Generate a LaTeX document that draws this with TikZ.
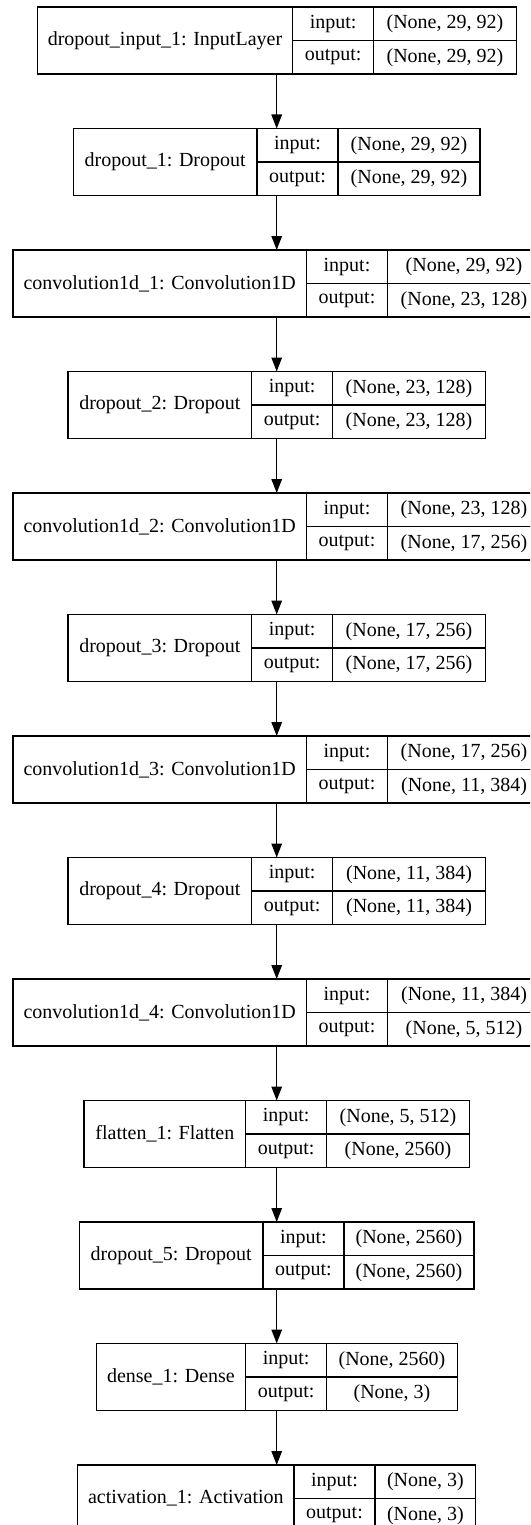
\documentclass[tikz,border=0pt]{standalone}
\usepackage{fontspec}
\setmainfont{Liberation Serif}
\usetikzlibrary{arrows.meta}
\tikzset{
  frame/.style={inner sep=0pt, outer sep=0pt},
  cell/.style={draw, line width=1.4pt, inner sep=0pt, outer sep=0pt, font=\fontsize{20pt}{24pt}\selectfont},
  arr/.style={line width=1.4pt, -{Triangle[length=14pt,width=10.5pt]}}
}
\newcommand\lyr[7]{%
  \pgfmathsetmacro\Lt{7+121.5*(#2-1)}%
  \pgfmathsetmacro\Ll{276.7-#3/2}%
  \pgfmathsetmacro\La{\Ll+#4}%
  \pgfmathsetmacro\Lb{\La+81}%
  \pgfmathsetmacro\Lr{276.7+#3/2}%
  \pgfmathsetmacro\Lv{\Lr-\Lb}%
  \node[frame, minimum width=#3pt, minimum height=67pt] (#1) at ({276.7},{\Lt+33.5}) {};
  \node[cell, minimum width=#4pt, minimum height=67pt] (#1n) at ({(\Ll+\La)/2},{\Lt+33.5}) {#5};
  \node[cell, minimum width=81pt, minimum height=33.5pt] (#1il) at ({\La+40.5},{\Lt+16.75}) {input:};
  \node[cell, minimum width=81pt, minimum height=33.5pt] (#1ol) at ({\La+40.5},{\Lt+50.25}) {output:};
  \node[cell, minimum width=\Lv pt, minimum height=33.5pt] (#1iv) at ({(\Lb+\Lr)/2},{\Lt+16.75}) {#6};
  \node[cell, minimum width=\Lv pt, minimum height=33.5pt] (#1ov) at ({(\Lb+\Lr)/2},{\Lt+50.25}) {#7};
}
\begin{document}
\begin{tikzpicture}[x=1pt,y=-1pt]
\useasboundingbox (0,0) rectangle (530,1525);
\clip (0,0) rectangle (530,1525);
\lyr{b1}{1}{479}{255.5}{dropout\_input\_1: InputLayer}{(None, 29, 92)}{(None, 29, 92)}
\lyr{b2}{2}{406.8}{183.7}{dropout\_1: Dropout}{(None, 29, 92)}{(None, 29, 92)}
\lyr{b3}{3}{527.8}{293.7}{convolution1d\_1: Convolution1D}{(None, 29, 92)}{(None, 23, 128)}
\lyr{b4}{4}{417.4}{183.7}{dropout\_2: Dropout}{(None, 23, 128)}{(None, 23, 128)}
\lyr{b5}{5}{527.8}{293.7}{convolution1d\_2: Convolution1D}{(None, 23, 128)}{(None, 17, 256)}
\lyr{b6}{6}{417.4}{183.7}{dropout\_3: Dropout}{(None, 17, 256)}{(None, 17, 256)}
\lyr{b7}{7}{527.8}{293.7}{convolution1d\_3: Convolution1D}{(None, 17, 256)}{(None, 11, 384)}
\lyr{b8}{8}{417.4}{183.7}{dropout\_4: Dropout}{(None, 11, 384)}{(None, 11, 384)}
\lyr{b9}{9}{527.8}{293.7}{convolution1d\_4: Convolution1D}{(None, 11, 384)}{(None, 5, 512)}
\lyr{b10}{10}{385.4}{161.7}{flatten\_1: Flatten}{(None, 5, 512)}{(None, 2560)}
\lyr{b11}{11}{394.6}{183.5}{dropout\_5: Dropout}{(None, 2560)}{(None, 2560)}
\lyr{b12}{12}{361}{149.5}{dense\_1: Dense}{(None, 2560)}{(None, 3)}
\lyr{b13}{13}{398}{216.3}{activation\_1: Activation}{(None, 3)}{(None, 3)}
\draw[arr] (b1.south) -- (b2.north);
\draw[arr] (b2.south) -- (b3.north);
\draw[arr] (b3.south) -- (b4.north);
\draw[arr] (b4.south) -- (b5.north);
\draw[arr] (b5.south) -- (b6.north);
\draw[arr] (b6.south) -- (b7.north);
\draw[arr] (b7.south) -- (b8.north);
\draw[arr] (b8.south) -- (b9.north);
\draw[arr] (b9.south) -- (b10.north);
\draw[arr] (b10.south) -- (b11.north);
\draw[arr] (b11.south) -- (b12.north);
\draw[arr] (b12.south) -- (b13.north);
\end{tikzpicture}
\end{document}
